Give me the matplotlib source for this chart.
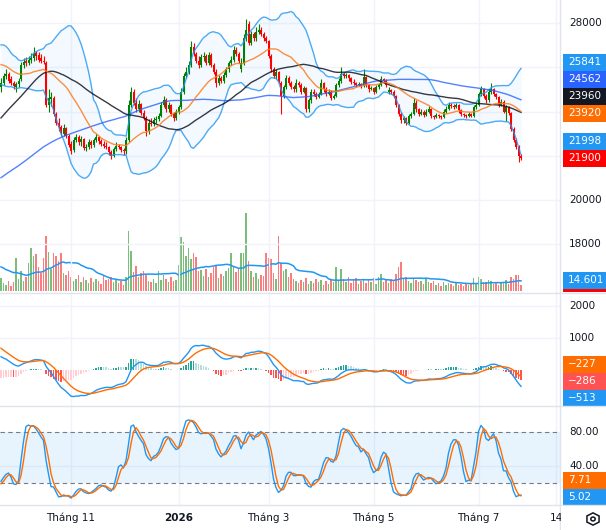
import numpy as np
import pandas as pd
import matplotlib
matplotlib.use("Agg")
import matplotlib.pyplot as plt
from matplotlib.patches import Rectangle, RegularPolygon, Circle
from matplotlib.transforms import blended_transform_factory

# off-screen history before the first visible bar (closes only), needed to warm up the averages
pre_close = [17500, 17700, 17600, 17900, 17800, 17600, 17700, 17900, 18000, 17800, 17700, 17900,
             17600, 17500, 17700, 17800, 18000, 17900, 17700, 17800, 17900, 17700, 17800, 18100,
             18300, 18200, 18500, 18400, 18600, 18500, 18700, 18600, 18400, 18600, 18800, 18700,
             18900, 19000, 18800, 18900, 19100, 19000, 18900, 19100, 19200, 19000, 19200, 19300,
             19100, 19000, 19200, 19100,
             19200, 19400, 19300, 19600, 19500, 19800, 19700, 20000, 19900, 20200, 20100, 20400,
             20900, 21600, 22300, 22100, 23000, 23800, 24300, 24900,
             25200, 25700, 25400, 25900, 25600, 25800, 25500, 25700,
             26200, 26600, 26900, 27000, 26700, 26400, 26500, 26300, 26100,
             25900, 26200, 25800, 25600, 26000, 25700, 25900, 25600, 25800, 25900]
pre_vol = [45, 50, 40, 38, 44, 36, 42, 40, 39, 41, 30, 28, 26, 32, 27, 25, 29, 24, 26]

# visible daily bars
o = [25100, 25300, 25600, 25700, 25450, 25300, 25100, 25250, 25450, 26100,
     26300, 26200, 26350, 26400, 26650, 26550, 26400, 26300, 26200, 24300,
     24550, 24600, 23900, 23500, 23300, 23000, 23250, 22900, 22550, 22250,
     22700, 22850, 22600, 22750, 22350, 22400, 22600, 22500, 22700, 22850,
     22650, 22550, 22450, 22400, 22150, 22000, 22300, 22450, 22400, 22250,
     22200, 22700, 24300, 24900, 24400, 24100, 24350, 23950, 23700, 23100,
     23500, 23450, 23600, 23650, 23800, 24300, 24500, 24100, 24300, 23900,
     23700, 24000, 24200, 24900, 25600, 25800, 26100, 26900, 26600, 26300,
     26100, 26450, 26500, 26200, 26550, 26100, 25800, 25300, 25500, 25400,
     25650, 25900, 26200, 26350, 26800, 26600, 25900, 26200, 27300, 27950,
     27100, 27500, 27300, 27600, 27700, 27500, 27300, 27200, 26500, 25900,
     25600, 25800, 25300, 24700, 25100, 25500, 25300, 25100, 25000, 25300,
     25200, 24900, 25050, 24100, 24500, 24900, 24800, 24650, 24800, 25300,
     25000, 24800, 24900, 24600, 24700, 25200, 25400, 25700, 25600, 25650,
     25500, 25350, 25300, 25200, 25250, 25150, 25550, 25200, 25000, 25050,
     24900, 25100, 25200, 25450, 25400, 24900, 24950, 24900, 24700, 24300,
     23900, 23600, 23700, 23500, 23800, 23900, 24400, 24100, 23900, 24000,
     23850, 24000, 24100, 23800, 23750, 23850, 23800, 23750, 24000, 24100,
     24300, 24250, 24200, 24300, 24050, 23900, 23850, 23800, 23900, 23800,
     24200, 24300, 24800, 25000, 24700, 24500, 24900, 25000, 24800, 24650,
     24300, 24450, 24000, 24200, 23950, 23200, 22700, 22400, 22000]
h = [25500, 25750, 25900, 25800, 25600, 25400, 25350, 25500, 26250, 26400,
     26450, 26500, 26650, 26900, 26750, 26700, 26600, 26500, 26300, 25000,
     24900, 24700, 24000, 23700, 23400, 23450, 23300, 23000, 22650, 22850,
     23000, 22950, 22900, 22800, 22550, 22750, 22700, 22800, 23000, 22900,
     22750, 22650, 22600, 22450, 22250, 22400, 22600, 22550, 22450, 22350,
     22850, 24500, 25100, 25000, 24600, 24500, 24400, 24050, 23800, 23650,
     23700, 23750, 23800, 23950, 24450, 24700, 24600, 24450, 24350, 24000,
     24100, 24300, 25050, 25750, 26000, 26300, 27200, 27100, 26700, 26500,
     26600, 26700, 26600, 26700, 26650, 26200, 25900, 25650, 25600, 25800,
     26000, 26300, 26500, 26950, 26900, 26700, 26400, 27500, 28200, 28100,
     27650, 27600, 27800, 27950, 27800, 27600, 27400, 27250, 26600, 26000,
     25900, 25850, 25400, 25200, 25650, 25600, 25400, 25200, 25450, 25400,
     25300, 25150, 25100, 24600, 25000, 25000, 24900, 24900, 25450, 25350,
     25100, 25000, 24950, 24800, 25300, 25500, 26000, 25800, 25750, 25700,
     25550, 25450, 25350, 25350, 25300, 25900, 25600, 25250, 25150, 25100,
     25200, 25300, 25600, 25500, 25450, 25100, 25000, 24950, 24750, 24350,
     24000, 23800, 23750, 23900, 24000, 24600, 24500, 24150, 24100, 24050,
     24100, 24250, 24150, 23850, 23950, 23900, 23850, 24100, 24250, 24450,
     24400, 24350, 24400, 24350, 24100, 23950, 23900, 24000, 23950, 24300,
     24400, 24900, 25150, 25050, 24800, 25000, 25300, 25050, 24850, 24700,
     24550, 24500, 24300, 24250, 24000, 23300, 22800, 22500, 22100]
l = [24900, 25200, 25450, 25300, 25200, 25000, 24900, 25100, 25400, 25950,
     26050, 26100, 26200, 26300, 26350, 26250, 26200, 26150, 24200, 24000,
     24250, 23800, 23400, 23100, 22900, 22900, 22800, 22400, 22100, 22150,
     22600, 22500, 22450, 22250, 22200, 22300, 22350, 22400, 22600, 22550,
     22450, 22350, 22300, 22050, 21850, 21950, 22200, 22300, 22150, 22050,
     22100, 22600, 24200, 24300, 24000, 24000, 23850, 23600, 22900, 23000,
     23350, 23350, 23500, 23550, 23750, 24200, 24000, 24000, 23800, 23550,
     23600, 23900, 24100, 24800, 25500, 25700, 26000, 26500, 26200, 25950,
     26000, 26300, 26100, 26100, 26000, 25700, 25100, 25200, 25300, 25300,
     25550, 25800, 26100, 26250, 26500, 26200, 25800, 26100, 27200, 27000,
     27000, 27200, 27200, 27500, 27400, 27200, 27100, 26400, 25800, 25500,
     25450, 25300, 23900, 24600, 25000, 25200, 25000, 24900, 24900, 25100,
     24800, 24850, 24000, 24000, 24400, 24700, 24550, 24600, 24750, 24900,
     24700, 24750, 24500, 24550, 24650, 25100, 25300, 25500, 25500, 25400,
     25250, 25200, 25100, 25150, 25050, 25100, 25100, 24900, 24950, 24800,
     24850, 25000, 25150, 25300, 25100, 24800, 24800, 24600, 24200, 23800,
     23500, 23500, 23400, 23450, 23700, 23850, 24000, 23800, 23850, 23750,
     23800, 23950, 23700, 23650, 23700, 23700, 23650, 23700, 23950, 24050,
     24150, 24100, 24150, 23950, 23800, 23750, 23700, 23750, 23750, 23750,
     24100, 24250, 24700, 24600, 24400, 24450, 24800, 24700, 24550, 24200,
     24250, 23950, 23550, 23850, 23100, 22600, 22300, 21700, 21800]
c = [25300, 25600, 25700, 25400, 25300, 25150, 25250, 25400, 26100, 26250,
     26200, 26350, 26400, 26600, 26500, 26350, 26300, 26250, 24300, 24600,
     24650, 23900, 23500, 23300, 23050, 23250, 22900, 22500, 22200, 22700,
     22850, 22600, 22750, 22350, 22400, 22600, 22500, 22700, 22850, 22650,
     22550, 22450, 22400, 22150, 22000, 22300, 22450, 22400, 22250, 22200,
     22700, 24300, 24900, 24400, 24100, 24350, 23950, 23700, 23100, 23500,
     23450, 23600, 23650, 23800, 24300, 24500, 24100, 24300, 23900, 23700,
     24000, 24200, 24900, 25600, 25800, 26100, 26900, 26600, 26300, 26100,
     26450, 26500, 26200, 26550, 26100, 25800, 25300, 25500, 25400, 25650,
     25900, 26200, 26350, 26800, 26600, 26300, 26200, 27300, 27700, 27100,
     27500, 27300, 27600, 27700, 27500, 27300, 27200, 26500, 25900, 25600,
     25800, 25400, 24700, 25100, 25500, 25300, 25100, 25000, 25300, 25200,
     24900, 25050, 24100, 24500, 24900, 24800, 24650, 24800, 25300, 25000,
     24800, 24900, 24600, 24700, 25200, 25400, 25700, 25600, 25650, 25500,
     25350, 25300, 25200, 25250, 25150, 25550, 25200, 25000, 25050, 24900,
     25100, 25200, 25450, 25400, 25200, 24950, 24900, 24700, 24300, 23900,
     23600, 23700, 23500, 23800, 23900, 24400, 24100, 23900, 24000, 23850,
     24000, 24100, 23800, 23750, 23850, 23800, 23750, 24000, 24100, 24300,
     24250, 24200, 24300, 24050, 23900, 23850, 23800, 23900, 23800, 24200,
     24300, 24800, 25000, 24700, 24500, 24900, 25000, 24800, 24650, 24300,
     24450, 24000, 24200, 23950, 23200, 22700, 22400, 22000, 21900]
vol = [18, 11, 8, 14, 7, 13, 46, 17, 28, 14,
       20, 39, 60, 49, 52, 34, 25, 46, 78, 55,
       31, 53, 49, 42, 53, 25, 22, 28, 20, 14,
       17, 22, 13, 20, 15, 11, 18, 13, 17, 14,
       10, 21, 15, 17, 20, 13, 15, 11, 14, 8,
       20, 85, 56, 27, 35, 20, 25, 28, 22, 14,
       13, 17, 11, 28, 15, 22, 17, 13, 20, 14,
       15, 36, 76, 69, 50, 60, 45, 53, 48, 28,
       29, 21, 31, 20, 25, 34, 36, 18, 24, 21,
       28, 32, 53, 35, 27, 31, 53, 53, 110, 42,
       28, 20, 25, 17, 22, 21, 53, 46, 45, 25,
       17, 77, 39, 28, 31, 20, 25, 17, 14, 11,
       15, 13, 18, 10, 14, 11, 17, 13, 15, 8,
       14, 10, 17, 13, 34, 14, 31, 17, 13, 20,
       11, 15, 18, 10, 14, 17, 11, 15, 13, 18,
       10, 20, 24, 13, 15, 11, 17, 14, 24, 34,
       41, 17, 20, 14, 11, 18, 15, 13, 14, 10,
       17, 13, 11, 14, 8, 11, 7, 13, 8, 11,
       10, 7, 13, 8, 10, 7, 11, 8, 10, 18,
       10, 20, 17, 12, 13, 15, 14, 10, 12, 9,
       11, 13, 15, 10, 20, 17, 22, 22, 9]

month_idx = [28, 71, 107, 149, 191, 222]
month_lbl = ['Tháng 11', '2026', 'Tháng 3', 'Tháng 5', 'Tháng 7', '14']
price_lbl = [28000, 20000, 18000]
macd_lbl = [2000, 1000]
stoch_lbl = [80, 40]
# last values as printed on the scale tags
tag_price = ['25841', '24562', '23960', '23920', '21998', '21900']
tag_vol = '14.601'
tag_macd = ['\u2212227', '\u2212286', '\u2212513']
tag_stoch = ['7.71', '5.02']

# ---- indicators ----
k0 = len(pre_close)
fc = pd.Series(pre_close + c, dtype=float)
fh = pd.Series(pre_close + h, dtype=float)
fl = pd.Series(pre_close + l, dtype=float)
ma20 = fc.rolling(20).mean()
sd20 = fc.rolling(20).std(ddof=0)
bb_up = (ma20 + 2 * sd20)[k0:].values
bb_lo = (ma20 - 2 * sd20)[k0:].values
ma50 = fc.rolling(50).mean()[k0:].values
ma100 = fc.rolling(100).mean()[k0:].values
macd = fc.ewm(span=12, adjust=False).mean() - fc.ewm(span=26, adjust=False).mean()
sig = macd.ewm(span=9, adjust=False).mean()
hist = (macd - sig)[k0:].values
macd = macd[k0:].values
sig = sig[k0:].values
ll = fl.rolling(21).min()
hh = fh.rolling(21).max()
fk = 100 * (fc - ll) / (hh - ll)
stk = fk.rolling(3).mean()
std_ = stk.rolling(3).mean()[k0:].values
stk = stk[k0:].values
fv = pd.Series(pre_vol + vol, dtype=float)
vma = fv.rolling(20).mean()[len(pre_vol):].values
ma20 = ma20[k0:].values

n = len(c)
x = np.arange(n)
O, H, L, C = map(np.array, (o, h, l, c))
up = C >= O

W, Hh = 606, 530
fig = plt.figure(figsize=(W / 100, Hh / 100), dpi=100)
fig.patch.set_facecolor('white')


def fx(px):
    return px / W


def fy(py):
    return 1 - py / Hh


def pane(top, bot):
    a = fig.add_axes([0, fy(bot), fx(560), (bot - top) / Hh])
    a.set_xlim(-0.4, 223.6)
    for s in a.spines.values():
        s.set_visible(False)
    a.set_xticks([])
    a.set_yticks([])
    for m in month_idx:
        a.axvline(m, color='#f0f3fa', lw=1, zorder=0)
    return a


grid = '#f0f3fa'
blue = '#2196f3'
orange = '#ff6d00'

# ---- price pane ----
ax = pane(0, 293)
ax.set_ylim(15797, 29040)
for lv in range(18000, 28001, 2000):
    ax.axhline(lv, color=grid, lw=1, zorder=0)
ax.fill_between(x, bb_lo, bb_up, color=blue, alpha=0.05, lw=0, zorder=1)
ax.plot(x, bb_up, color=blue, lw=1, alpha=0.8, zorder=4)
ax.plot(x, bb_lo, color=blue, lw=1, alpha=0.8, zorder=4)
ax.plot(x, ma100, color='#2962ff', lw=1, alpha=0.8, zorder=4)
ax.plot(x, ma50, color='#131722', lw=1, alpha=0.85, zorder=4)
ax.plot(x, ma20, color='#ff7b1c', lw=1, alpha=0.85, zorder=4)
col = np.where(up, '#008000', '#ff0000')
ax.vlines(x, L, H, colors=col, lw=0.8, zorder=3)
ax.bar(x, np.maximum(np.abs(C - O), 45), bottom=np.minimum(O, C), width=0.78,
       color=col, lw=0, zorder=3)

axv = ax.twinx()
axv.set_ylim(-2.8, 410)
axv.set_axis_off()
vcol = np.where(up, '#7cbd7c', '#fa7d7d')
axv.bar(x, vol, width=0.45, color=vcol, lw=0)
axv.plot(x, vma, color=blue, lw=1.1)
ax.set_zorder(axv.get_zorder() + 1)
ax.patch.set_visible(False)

# ---- MACD pane ----
am = pane(293, 406)
am.set_ylim(-1125, 2406)
for lv in macd_lbl:
    am.axhline(lv, color=grid, lw=1, zorder=0)
prev = np.r_[hist[0], hist[:-1]]
hcol = np.where(hist >= 0, np.where(hist >= prev, '#26a69a', '#b2dfdb'),
                np.where(hist < prev, '#ff5252', '#ffcdd2'))
am.bar(x, hist, width=0.45, color=hcol, lw=0, zorder=2)
am.plot(x, macd, color=blue, lw=1, zorder=3)
am.plot(x, sig, color=orange, lw=1, zorder=3)

# ---- stochastic pane ----
ast = pane(406, 505)
ast.set_ylim(-5.9, 110.6)
ast.axhline(40, color=grid, lw=1, zorder=0)
ast.axhspan(20, 80, color=blue, alpha=0.1, lw=0, zorder=0)
ast.axhline(80, color='#787b86', lw=0.8, ls=(0, (4, 3)), zorder=1)
ast.axhline(20, color='#787b86', lw=0.8, ls=(0, (4, 3)), zorder=1)
ast.plot(x, stk, color=blue, lw=1, zorder=3)
ast.plot(x, std_, color=orange, lw=1, zorder=3)

# ---- separators ----
sep = '#e0e3eb'
for yy in (293, 406, 505):
    fig.add_artist(plt.Line2D([0, 1], [fy(yy), fy(yy)], color=sep, lw=1))
fig.add_artist(plt.Line2D([fx(560), fx(560)], [0, 1], color=sep, lw=1))

fs = 7.5
txt = '#131722'


def ylab(a, s, v):
    tr = blended_transform_factory(fig.transFigure, a.transData)
    fig.text(fx(569), v, s, fontsize=fs, color=txt, va='center', ha='left', transform=tr)


def tag(s, py, colr, hgt=17):
    fig.add_artist(Rectangle((fx(563), fy(py + hgt / 2)), 43 / W, hgt / Hh,
                             transform=fig.transFigure, color=colr, lw=0))
    fig.text(fx(568), fy(py), s, fontsize=fs, color='white', va='center', ha='left')


for v in price_lbl:
    ylab(ax, str(v), v)
for v in macd_lbl:
    ylab(am, str(v), v)
for v in stoch_lbl:
    ylab(ast, '%.2f' % v, v)

for s, py, colr in zip(tag_price, [62, 79, 96, 113, 141, 158],
                       [blue, '#2962ff', '#131722', orange, blue, '#ff0000']):
    tag(s, py, colr)
fig.add_artist(Rectangle((fx(563), fy(292)), 43 / W, 4 / Hh,
                         transform=fig.transFigure, color='#ff0000', lw=0))
tag(tag_vol, 280, blue)
for s, py, colr in zip(tag_macd, [364, 381, 398], [orange, '#ff5252', blue]):
    tag(s, py, colr)
for s, py, colr in zip(tag_stoch, [480, 497], [orange, blue]):
    tag(s, py, colr)

# ---- time axis ----
for m, s in zip(month_idx, month_lbl):
    px_ = 1 + 2.5 * m
    fig.text(fx(px_), fy(518), s, fontsize=fs, color=txt, ha='center', va='center',
             fontweight='bold' if s == '2026' else 'normal')
fig.add_artist(Rectangle((fx(561), 0), 45 / W, 24 / Hh, transform=fig.transFigure,
                         color='white', lw=0, zorder=5))
fig.add_artist(RegularPolygon((fx(593), fy(519)), 6, radius=7 / W, orientation=0,
                              transform=fig.transFigure, fill=False, ec=txt, lw=1.1, zorder=6))
fig.add_artist(Circle((fx(593), fy(519)), 2.2 / W, transform=fig.transFigure,
                      fill=False, ec=txt, lw=1.1, zorder=6))

fig.savefig('out.png', dpi=100, facecolor='white')
